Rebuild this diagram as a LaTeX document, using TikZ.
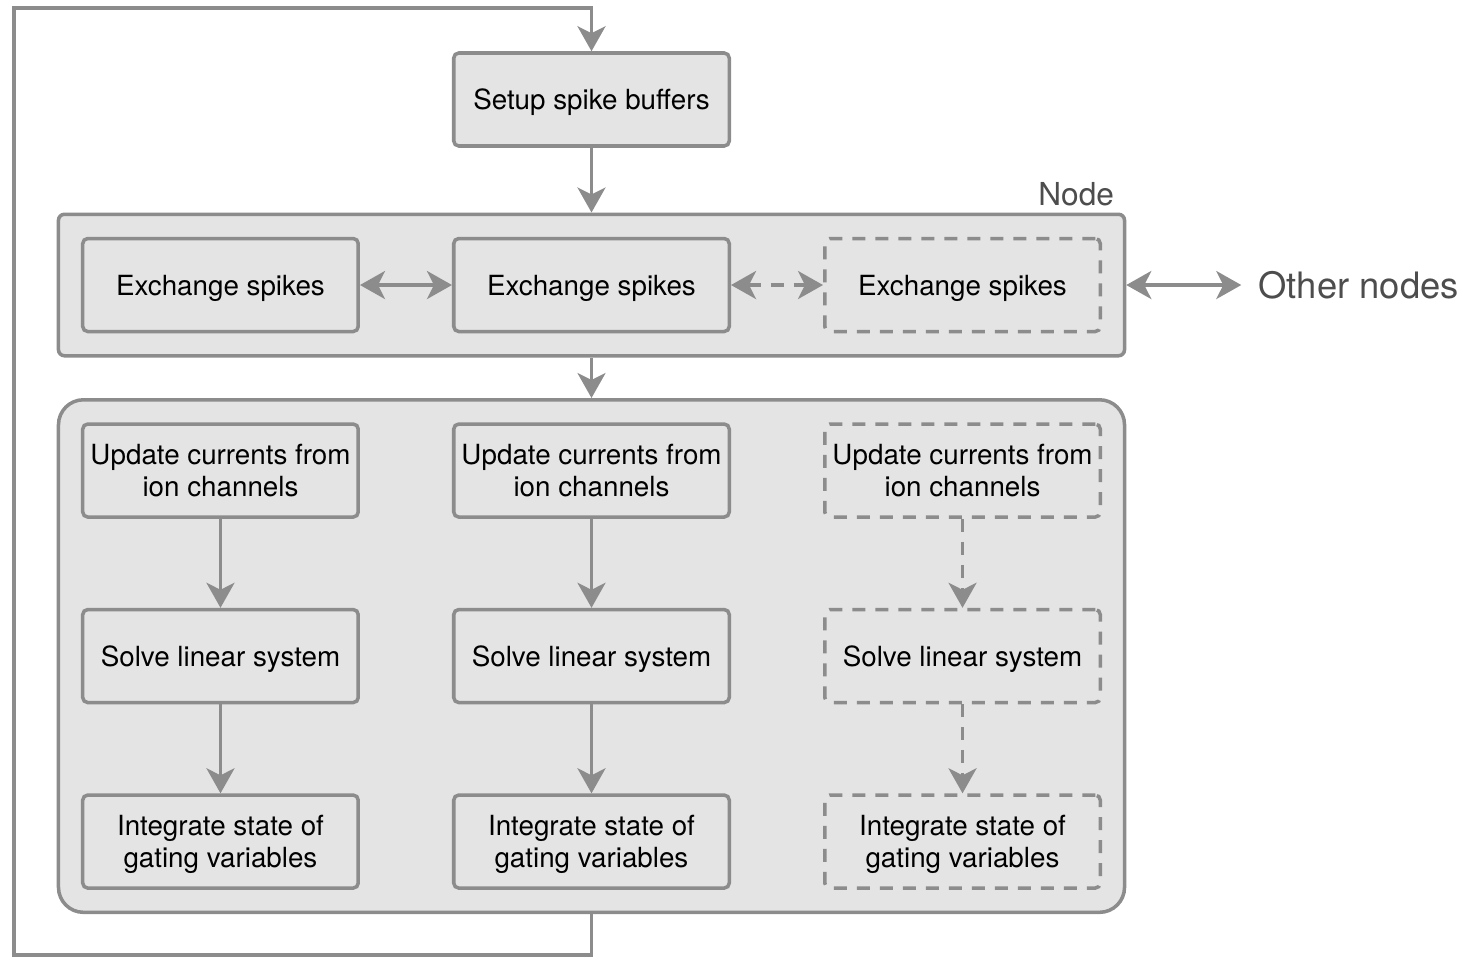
\documentclass[tikz,border=0pt]{standalone}
\usepackage{fontspec}
\setmainfont{TeX Gyre Heros}
\usetikzlibrary{arrows.meta, positioning, fit, backgrounds}
\definecolor{linegray}{HTML}{8C8C8C}
\definecolor{boxfill}{HTML}{E4E4E4}
\definecolor{labelgray}{HTML}{4D4D4D}

\begin{document}
\begin{tikzpicture}[
        node distance=1.78cm and 1.84cm,
        every node/.style={font=\fontsize{15.8}{18.5}\selectfont, align=center},
        box/.style={rectangle, draw=linegray, fill=boxfill, line width=2pt, rounded corners=0.1cm, minimum width=5.51cm, minimum height=1.86cm, inner sep=0pt, text depth=-0.12cm},
        flow/.style={-{Stealth[length=0.5cm, width=0.56cm, inset=0.14cm]}, draw=linegray, line width=2pt}
    ]

    \tikzset{
    ghost/.style={box, dash pattern=on 0.26cm off 0.2cm},
    both/.style={{Stealth[length=0.5cm, width=0.56cm, inset=0.14cm]}-{Stealth[length=0.5cm, width=0.56cm, inset=0.14cm]}, draw=linegray, line width=2pt},
    ghostflow/.style={flow, dash pattern=on 0.26cm off 0.2cm}
}

    \useasboundingbox (0,0) rectangle (29.36,-19.16);

    \node[box] (setup) at (11.83,-1.99) {Setup spike buffers};

    \node[box] (ex2) [below=of setup] {Exchange spikes};
    \node[box] (ex1) [left=of ex2] {Exchange spikes};
    \node[ghost] (ex3) [right=of ex2] {Exchange spikes};

    \node[box] (up2) [below=of ex2] {Update currents from\\ion channels};
    \node[box] (up1) [left=of up2] {Update currents from\\ion channels};
    \node[ghost] (up3) [right=of up2] {Update currents from\\ion channels};

    \node[box] (solve2) [below=of up2] {Solve linear system};
    \node[box] (solve1) [left=of solve2] {Solve linear system};
    \node[ghost] (solve3) [right=of solve2] {Solve linear system};

    \node[box] (integ2) [below=of solve2] {Integrate state of\\gating variables};
    \node[box] (integ1) [left=of integ2] {Integrate state of\\gating variables};
    \node[ghost] (integ3) [right=of integ2] {Integrate state of\\gating variables};

    \begin{scope}[on background layer]
    \node[draw=linegray, fill=boxfill, line width=2pt, rounded corners=0.12cm, inner sep=0.45cm, fit=(ex1)(ex3)] (nodebox) {};
    \node[draw=linegray, fill=boxfill, line width=2pt, rounded corners=0.5cm, inner sep=0.45cm, fit=(up1)(integ3)] (lower) {};
    \end{scope}

    \node[anchor=south east, inner sep=0.08cm, text=labelgray, font=\fontsize{18}{21}\selectfont] (nodelabel) at ([xshift=-0.16cm, yshift=0.04cm]nodebox.north east) {Node};
    \node[right=2.3cm of nodebox, inner xsep=0.34cm, text=labelgray, font=\fontsize{20.7}{24}\selectfont] (other) {Other nodes};

    \coordinate (loopbl) at (0.28,-19.1);
    \coordinate (looptl) at (0.28,-0.16);

    \draw[flow] (setup) -- (nodebox.north);
    \draw[flow] (nodebox) -- (lower.north);

    \draw[both] (ex1) -- (ex2);
    \draw[both, dash pattern=on 0.26cm off 0.2cm] (ex2) -- (ex3);
    \draw[both] (nodebox) -- (other);

    \draw[flow] (up1) -- (solve1);
    \draw[flow] (solve1) -- (integ1);
    \draw[flow] (up2) -- (solve2);
    \draw[flow] (solve2) -- (integ2);
    \draw[ghostflow] (up3) -- (solve3);
    \draw[ghostflow] (solve3) -- (integ3);

    \draw[flow] (lower.south) |- (loopbl) -- (looptl) -| (setup.north);
    \end{tikzpicture}
\end{document}
